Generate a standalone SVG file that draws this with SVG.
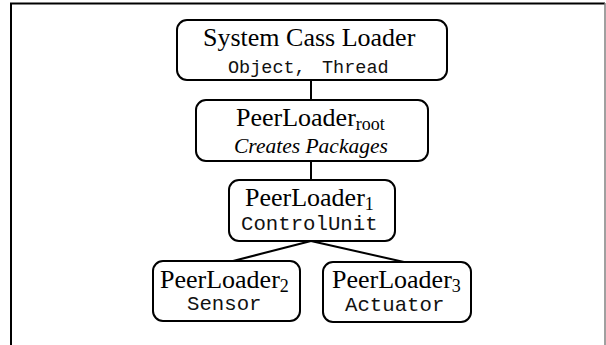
<svg xmlns="http://www.w3.org/2000/svg" width="606" height="345" viewBox="0 0 606 345">
<style>
.box{fill:#fff;stroke:#000;stroke-width:2}
.t{font-family:"Liberation Serif","Times New Roman",serif;font-size:26px;fill:#000}
.sub{font-size:18px}
.m{font-family:"Liberation Mono","Courier New",monospace;font-size:20.7px;fill:#111}
.i{font-family:"Liberation Serif","Times New Roman",serif;font-style:italic;font-size:21.5px;fill:#000}
.c{stroke:#000;stroke-width:2;fill:none}
</style>
<rect x="0" y="0" width="606" height="345" fill="#fff"/>
<g id="frame">
<path d="M11 345 V3.5 H605" fill="none" stroke="#000" stroke-width="2"/>
<line x1="605" y1="3" x2="605" y2="345" stroke="#808080" stroke-width="1.5"/>
</g>
<g id="connectors">
<line class="c" x1="311" y1="80" x2="311" y2="100"/>
<line class="c" x1="311" y1="161" x2="311" y2="180"/>
<line class="c" x1="311" y1="241" x2="233" y2="261"/>
<line class="c" x1="311" y1="241" x2="404" y2="262"/>
</g>
<g id="system">
<rect class="box" x="177" y="20" width="270" height="60" rx="10"/>
<text class="t" x="203" y="46">System Cass Loader</text>
<text class="m" style="font-size:18.5px" x="228" y="73">Object,<tspan x="322">Thread</tspan></text>
</g>
<g id="root">
<rect class="box" x="196" y="100" width="232" height="61" rx="10"/>
<text class="t" x="236" y="126">PeerLoader<tspan class="sub" dy="4">root</tspan></text>
<text class="i" x="234" y="153">Creates Packages</text>
</g>
<g id="pl1">
<rect class="box" x="229" y="180" width="166" height="61" rx="10"/>
<text class="t" x="245" y="206">PeerLoader<tspan class="sub" dy="4">1</tspan></text>
<text class="m" x="241" y="230">ControlUnit</text>
</g>
<g id="pl2">
<rect class="box" x="153" y="261" width="147" height="60" rx="10"/>
<text class="t" x="160" y="288">PeerLoader<tspan class="sub" dy="4">2</tspan></text>
<text class="m" x="187" y="310">Sensor</text>
</g>
<g id="pl3">
<rect class="box" x="323" y="262" width="148" height="60" rx="10"/>
<text class="t" x="332" y="288">PeerLoader<tspan class="sub" dy="4">3</tspan></text>
<text class="m" x="345" y="311">Actuator</text>
</g>
</svg>
